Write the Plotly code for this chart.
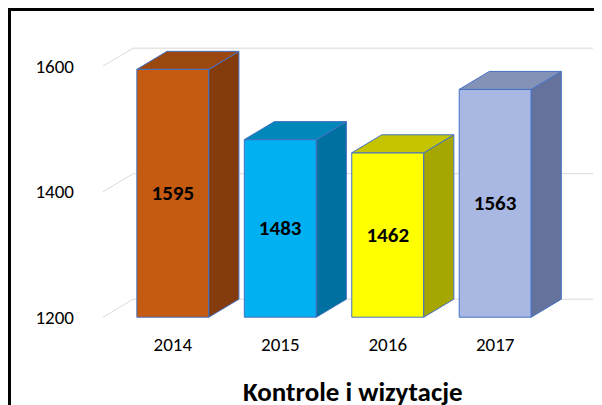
import plotly.graph_objects as go

years = ["2014", "2015", "2016", "2017"]
values = [1595, 1483, 1462, 1563]
front_colors = ["#C55A11", "#00B0F0", "#FFFF00", "#A9B8E3"]
side_colors = ["#843C0C", "#0070A0", "#A6A600", "#65739C"]
top_colors = ["#9B4710", "#0088BA", "#C4C400", "#8592B8"]
ticks = [1200, 1400, 1600]

BASE = 1200
W = 0.67      # front width (category units)
DX = 0.28     # depth offset in x
DY = 28.7     # depth offset in y (value units)
XMIN, XMAX = -0.65, 3.91
YMIN, YMAX = 1178, 1680
EDGE = "#4472C4"
FONT = "Carlito, Calibri, Lato, Liberation Sans, Arial"

fig = go.Figure()

for i, v in enumerate(values):
    l, r = i - W / 2, i + W / 2
    # side face
    fig.add_trace(go.Scatter(x=[r, r + DX, r + DX, r, r], y=[BASE, BASE + DY, v + DY, v, BASE],
                             fill="toself", fillcolor=side_colors[i], mode="lines",
                             line=dict(color=EDGE, width=1), hoverinfo="skip", showlegend=False))
    # top face
    fig.add_trace(go.Scatter(x=[l, l + DX, r + DX, r, l], y=[v, v + DY, v + DY, v, v],
                             fill="toself", fillcolor=top_colors[i], mode="lines",
                             line=dict(color=EDGE, width=1), hoverinfo="skip", showlegend=False))

# front faces
fig.add_trace(go.Bar(x=list(range(len(years))), y=[v - BASE for v in values], base=BASE,
                     width=W, marker=dict(color=front_colors, line=dict(color=EDGE, width=1)),
                     text=[str(v) for v in values], textposition="inside", insidetextanchor="middle",
                     textfont=dict(size=21, color="black", family=FONT),
                     texttemplate="<b>%{text}</b>", hoverinfo="skip", showlegend=False))

# back wall gridlines, below the bars
shapes = []
for t in ticks:
    shapes.append(dict(type="path", xref="x", yref="y", layer="below",
                       path=f"M {XMIN},{t} L {XMIN + DX},{t + DY} L {XMAX},{t + DY}",
                       line=dict(color="#D9D9D9", width=1)))

L, R, T, B = 95, 17, 8, 82
pw, ph = 602 - L - R, 405 - T - B

shapes.append(dict(type="rect", xref="paper", yref="paper",
                   x0=-(L - 1.5) / pw, x1=1 + (R - 1.5) / pw,
                   y0=-(B - 1.5) / ph, y1=1 + (T - 1.5) / ph,
                   line=dict(color="black", width=3)))

fig.update_layout(
    width=602, height=405,
    margin=dict(l=L, r=R, t=T, b=B),
    paper_bgcolor="white", plot_bgcolor="white",
    font=dict(family=FONT, color="black", size=19),
    xaxis=dict(range=[XMIN, XMAX], tickvals=list(range(len(years))), ticktext=years,
               showgrid=False, zeroline=False, showline=False, ticks="",
               tickfont=dict(size=19)),
    yaxis=dict(range=[YMIN, YMAX], tickvals=ticks, showgrid=False, zeroline=False,
               showline=False, ticks="", ticklabelstandoff=28, tickfont=dict(size=19)),
    annotations=[dict(text="<b>Kontrole i wizytacje</b>", xref="paper", yref="paper",
                      x=(345 - L) / pw, y=-(383 - T - ph) / ph, showarrow=False,
                      font=dict(size=27), xanchor="center", yanchor="middle")],
    shapes=shapes,
)

fig.write_html("out.html")
